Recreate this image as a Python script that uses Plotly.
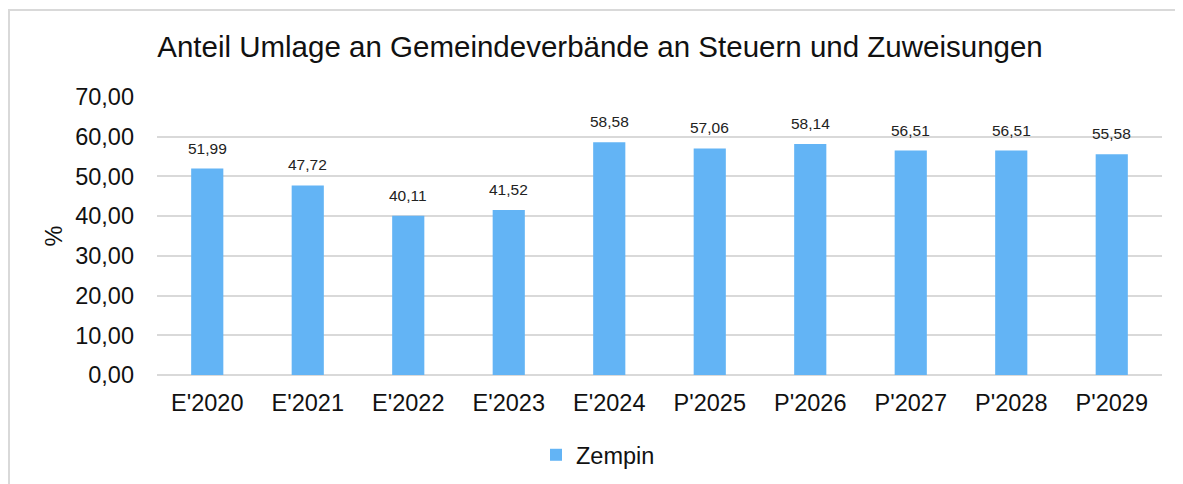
import plotly.graph_objects as go

categories = ["E'2020", "E'2021", "E'2022", "E'2023", "E'2024", "P'2025", "P'2026", "P'2027", "P'2028", "P'2029"]
values = [51.99, 47.72, 40.11, 41.52, 58.58, 57.06, 58.14, 56.51, 56.51, 55.58]
labels = [f"{v:.2f}".replace(".", ",") for v in values]
y_ticks = [0, 10, 20, 30, 40, 50, 60, 70]
y_ticktext = [f"{t:.2f}".replace(".", ",") for t in y_ticks]

W, H = 1183, 484
OFF = 8  # page body margin offset
L, R, T, B = 157 - OFF, 21 + OFF, 97 - OFF, 109 + OFF
pw, ph = W - L - R, H - T - B
FONT = "Liberation Sans, Arial"


def px_x(page_x):
    return (page_x - OFF - L) / pw


def px_y(page_y):
    return ((H - B) - (page_y - OFF)) / ph


fig = go.Figure(go.Bar(
    x=categories, y=values, name="Zempin",
    marker=dict(color="#63B4F5", line=dict(width=0)),
    width=0.32,
))

for c, v, t in zip(categories, values, labels):
    fig.add_annotation(x=c, y=v, text=t, showarrow=False, yanchor="bottom",
                       yshift=10, font=dict(size=15.5, color="#222222", family=FONT))

fig.update_layout(
    width=W, height=H,
    margin=dict(l=L, r=R, t=T, b=B, autoexpand=False),
    paper_bgcolor="white", plot_bgcolor="white",
    font=dict(family=FONT, color="#111111"),
    title=dict(text="Anteil Umlage an Gemeindeverbände an Steuern und Zuweisungen",
               x=(600 - OFF) / W, xanchor="center", y=1 - (47 - OFF) / H, yanchor="middle",
               font=dict(size=29.5, color="#111111")),
    showlegend=True,
    legend=dict(orientation="h", x=px_x(598), xanchor="center",
                y=px_y(455), yanchor="middle",
                font=dict(size=23.5), itemwidth=30),
    xaxis=dict(showgrid=False, showline=False, ticks="", tickfont=dict(size=23.5),
               ticklabelstandoff=11, automargin=False),
    yaxis=dict(range=[0, 70], tickvals=y_ticks, ticktext=y_ticktext,
               tickfont=dict(size=23.5), showgrid=True, gridcolor="#d9d9d9", gridwidth=1.5,
               zeroline=True, zerolinecolor="#d9d9d9", zerolinewidth=1.5,
               showline=False, ticks="", ticklabelstandoff=22, automargin=False,
               title=dict(text="%", font=dict(size=23.5), standoff=5)),
    bargap=0.68,
    shapes=[dict(type="rect", xref="paper", yref="paper",
                 x0=(1 - L) / pw, x1=(W + 5 - L) / pw,
                 y0=-(20 + B) / ph, y1=((H - B) - 2) / ph,
                 line=dict(color="#d9d9d9", width=2), fillcolor="rgba(0,0,0,0)", layer="below")],
)

fig.write_html("out.html")
